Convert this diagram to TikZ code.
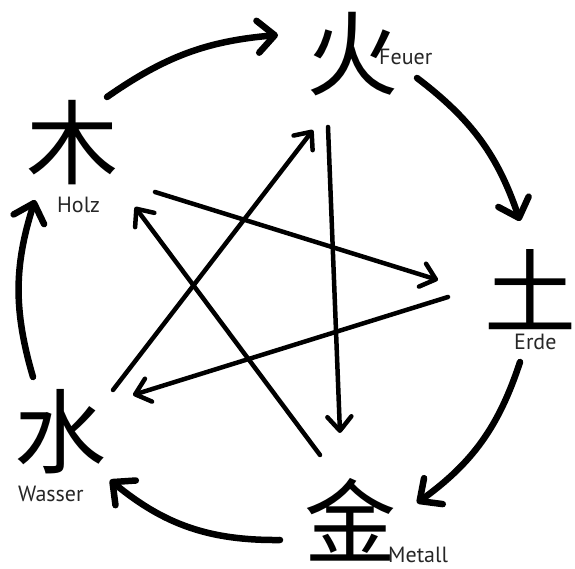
\documentclass[tikz,border=0pt]{standalone}
\usepackage{fontspec}
\setmainfont{PT Sans}
\newfontfamily\cjk{Noto Sans CJK SC}
\usepackage{tikz}
\usetikzlibrary{positioning, arrows.meta, calc}
\tikzset{
  elemchar/.style={
    font=\cjk\fontsize{92}{92}\selectfont,
    inner sep=0pt
  },
  elemlabel/.style={
    font=\fontsize{22}{22}\selectfont,
    text=black!85,
    inner sep=0pt,
    anchor=base west
  },
  cyclearrow/.style={
    -{Straight Barb[length=17pt, width=32pt, round]},
    line width=6.5pt,
    line cap=round
  },
  stararrow/.style={
    -{Straight Barb[length=14pt, width=24pt, round]},
    line width=4.5pt,
    line cap=round
  }
}
\begin{document}
\begin{tikzpicture}[x=1pt, y=1pt]
  \useasboundingbox (0,0) rectangle (575,569);

  % die fuenf Elemente
  \node[elemchar] (feuer)  at (352,515) {火};
  \node[elemchar] (erde)   at (530,279) {土};
  \node[elemchar] (metall) at (350,49)  {金};
  \node[elemchar] (wasser) at (60,137)  {水};
  \node[elemchar] (holz)   at (72,426)  {木};

  \node[elemlabel] (feuerlabel)  at (379,504) {Feuer};
  \node[elemlabel] (erdelabel)   at (514,219) {Erde};
  \node[elemlabel] (metalllabel) at (388,6)   {Metall};
  \node[elemlabel] (wasserlabel) at (18,67)   {Wasser};
  \node[elemlabel] (holzlabel)   at (57,356)  {Holz};

  % aeusserer Kreis
  \draw[cyclearrow] ($(holz)+(35,46)$)    to[bend left=15] ($(feuer)+(-74,19)$);
  \draw[cyclearrow] ($(feuer)+(65,-24)$)  to[bend left=17] ($(erde)+(-10,69)$);
  \draw[cyclearrow] ($(erde)+(-10,-72)$)  to[bend left=18] ($(metall)+(67,17)$);
  \draw[cyclearrow] ($(metall)+(-70,-20)$) to[bend left=20] ($(wasser)+(50,-48)$);
  \draw[cyclearrow] ($(wasser)+(-27,55)$) to[bend left=17] ($(holz)+(-37,-57)$);

  % innerer Stern
  \draw[stararrow] ($(wasser)+(53,42)$)  -- ($(feuer)+(-39,-76)$);
  \draw[stararrow] ($(feuer)+(-24,-73)$) -- ($(metall)+(-10,87)$);
  \draw[stararrow] ($(metall)+(-30,65)$) -- ($(holz)+(63,-64)$);
  \draw[stararrow] ($(holz)+(83,-49)$)   -- ($(erde)+(-92,10)$);
  \draw[stararrow] ($(erde)+(-82,-7)$)   -- ($(wasser)+(73,37)$);
\end{tikzpicture}
\end{document}
